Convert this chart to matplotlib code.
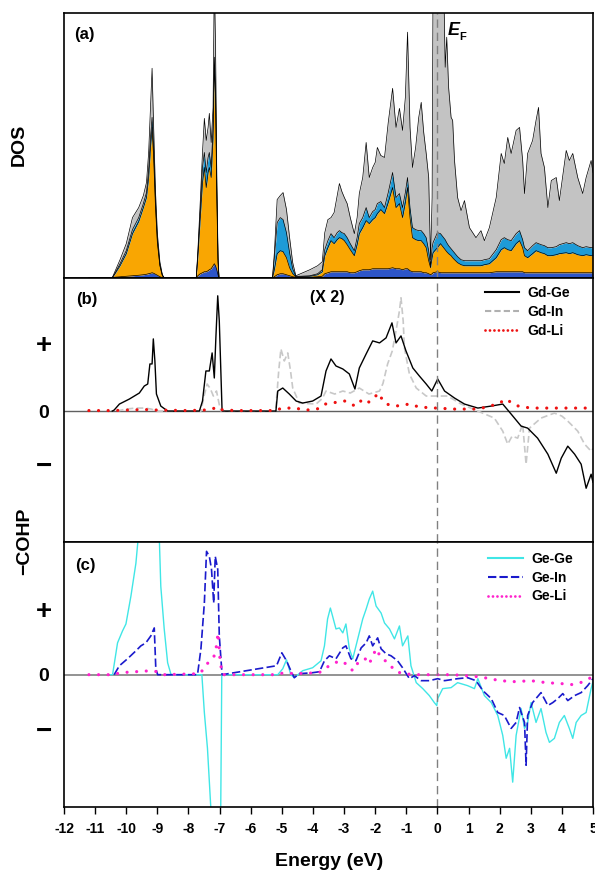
import matplotlib
matplotlib.use('Agg')
import matplotlib.pyplot as plt
from matplotlib.lines import Line2D

# ---------- (a) DOS, cumulative tops of each coloured band ----------
dos_energy = [-11.2, -10.45, -10.38, -10.2, -10.0, -9.8, -9.6, -9.45, -9.35, -9.28, -9.22, -9.17,
              -9.12, -9.06, -9.0, -8.92, -8.84, -8.78,
              -7.75, -7.70, -7.62, -7.55, -7.49, -7.43, -7.37, -7.33, -7.27, -7.21, -7.17, -7.13,
              -7.09, -7.05, -7.02,
              -5.30, -5.24, -5.15, -5.05, -4.96, -4.85, -4.75, -4.65, -4.55, -4.40, -4.10, -3.85,
              -3.70, -3.62, -3.52, -3.42, -3.32, -3.22, -3.15, -3.07, -2.99, -2.90, -2.80, -2.67,
              -2.58, -2.51, -2.40, -2.29, -2.19, -2.08, -2.00, -1.93, -1.82, -1.70, -1.58, -1.44,
              -1.33, -1.22, -1.12, -1.03, -0.96, -0.88, -0.80, -0.70, -0.60, -0.52, -0.44, -0.36,
              -0.28, -0.22, -0.17, -0.14, 0.00, 0.10, 0.20, 0.25, 0.30, 0.36, 0.44, 0.49, 0.55,
              0.65, 0.76, 0.87, 1.03, 1.24, 1.40, 1.51, 1.67, 1.89, 2.05, 2.15, 2.26, 2.37, 2.53,
              2.64, 2.74, 2.80, 2.90, 3.06, 3.17, 3.25, 3.33, 3.44, 3.55, 3.66, 3.82, 3.92, 4.14,
              4.24, 4.35, 4.51, 4.67, 4.78, 4.94, 5.00]
dos_blue = [0, 0, 0.05, 0.1, 0.15, 0.2, 0.25, 0.3, 0.35, 0.4, 0.45, 0.5,
            0.45, 0.35, 0.25, 0.1, 0.02, 0,
            0, 0.2, 0.4, 0.5, 0.6, 0.6, 0.7, 0.8, 0.9, 1.2, 1.4, 1.2,
            0.8, 0.3, 0,
            0, 0.1, 0.3, 0.4, 0.4, 0.3, 0.2, 0.1, 0.05, 0.05, 0.05, 0.1,
            0.15, 0.4, 0.5, 0.6, 0.6, 0.6, 0.6, 0.6, 0.6, 0.6, 0.5, 0.5,
            0.6, 0.7, 0.8, 0.8, 0.8, 0.9, 0.9, 0.9, 0.9, 0.9, 0.9, 1.0,
            0.9, 0.9, 0.8, 0.9, 0.9, 0.7, 0.6, 0.6, 0.6, 0.6, 0.5, 0.5,
            0.4, 0.3, 0.4, 0.5, 0.6, 0.5, 0.5, 0.5, 0.5, 0.5, 0.5, 0.5, 0.5,
            0.5, 0.5, 0.5, 0.5, 0.5, 0.5, 0.5, 0.5, 0.6, 0.6, 0.6, 0.6, 0.6, 0.6,
            0.6, 0.6, 0.5, 0.5, 0.5, 0.5, 0.5, 0.5, 0.5, 0.5, 0.5, 0.5, 0.5, 0.5,
            0.5, 0.5, 0.5, 0.5, 0.5, 0.5, 0.5]
dos_orange = [0, 0, 0.3, 1.2, 2.4, 4.4, 5.6, 7.0, 8.0, 10.0, 13.0, 15.0,
              12.0, 7.0, 3.5, 1.2, 0.2, 0,
              0, 2.0, 6.0, 9.5, 11.0, 9.0, 10.5, 11.0, 10.0, 14.0, 21.0, 18.0,
              8.0, 1.5, 0,
              0, 0.8, 2.4, 2.7, 2.6, 2.0, 1.0, 0.4, 0.1, 0.1, 0.15, 0.3,
              0.6, 2.2, 3.0, 3.7, 3.4, 3.8, 4.0, 3.9, 3.7, 3.3, 2.8, 2.2,
              3.3, 4.4, 5.0, 5.7, 5.4, 5.8, 6.0, 6.4, 6.8, 6.4, 7.5, 9.0,
              7.0, 7.4, 6.0, 7.5, 9.0, 6.0, 4.0, 3.8, 3.7, 3.7, 3.4, 3.0,
              1.7, 1.0, 2.0, 2.5, 3.0, 3.4, 3.0, 2.8, 2.6, 2.4, 2.2, 2.0, 1.8,
              1.5, 1.3, 1.2, 1.2, 1.2, 1.2, 1.3, 1.4, 2.0, 2.8, 3.0, 2.8, 2.7, 3.4,
              3.7, 3.0, 2.2, 2.0, 2.4, 2.7, 2.6, 2.5, 2.4, 2.2, 2.2, 2.3, 2.4, 2.5,
              2.4, 2.5, 2.3, 2.2, 2.3, 2.2, 2.2]
dos_cyan = [0, 0, 0.35, 1.4, 2.7, 4.8, 6.0, 7.4, 8.5, 10.8, 14.0, 16.0,
            13.0, 7.6, 3.8, 1.3, 0.25, 0,
            0, 2.3, 6.8, 11.0, 12.5, 10.5, 12.0, 12.5, 11.0, 15.0, 22.0, 19.0,
            9.0, 1.8, 0,
            0, 2.0, 5.5, 6.0, 5.8, 4.5, 2.5, 0.9, 0.15, 0.15, 0.2, 0.4,
            0.8, 2.8, 3.7, 4.4, 4.0, 4.5, 4.7, 4.5, 4.4, 4.0, 3.4, 2.7,
            4.0, 5.4, 6.0, 7.0, 6.0, 6.6, 6.8, 7.4, 7.6, 7.0, 8.5, 10.5,
            8.0, 8.4, 7.0, 8.5, 10.0, 7.0, 5.0, 4.8, 4.7, 4.7, 4.4, 4.0,
            2.7, 1.2, 3.0, 3.5, 4.5, 4.4, 4.0, 3.8, 3.5, 3.2, 2.9, 2.7, 2.5,
            2.1, 1.8, 1.7, 1.7, 1.7, 1.7, 1.8, 1.9, 2.8, 3.8, 4.0, 3.8, 3.7, 4.4,
            4.7, 3.8, 3.0, 2.7, 3.2, 3.5, 3.4, 3.3, 3.2, 3.0, 3.0, 3.1, 3.3, 3.5,
            3.4, 3.5, 3.2, 3.0, 3.1, 3.0, 3.0]
dos_total = [0, 0, 0.5, 1.8, 3.4, 6.0, 7.0, 8.2, 9.5, 12.5, 17.0, 20.9,
             15.0, 8.6, 4.4, 1.6, 0.3, 0,
             0, 2.6, 7.7, 12.5, 15.9, 13.7, 15.0, 16.4, 13.5, 17.0, 30.0, 23.0,
             10.0, 2.0, 0,
             0, 2.5, 7.8, 8.2, 8.5, 6.8, 4.0, 1.5, 0.2, 0.4, 0.8, 1.2,
             1.6, 4.5, 5.8, 6.0, 6.5, 8.2, 9.4, 8.6, 8.0, 7.4, 6.0, 4.4,
             6.0, 8.4, 10.0, 13.5, 10.0, 11.0, 11.5, 13.0, 12.2, 12.0, 15.5, 18.9,
             15.0, 16.9, 14.7, 18.0, 24.5, 15.0, 11.0, 13.0, 16.0, 17.5, 14.5, 12.4,
             10.0, 1.8, 8.0, 30.0, 30.0, 30.0, 30.0, 21.0, 24.0, 19.0, 16.0, 15.7, 11.7,
             8.0, 6.7, 7.7, 5.0, 4.0, 4.7, 3.7, 5.0, 8.0, 12.4, 11.4, 14.0, 12.4, 14.7,
             15.0, 11.7, 8.4, 12.4, 13.7, 15.7, 17.0, 12.4, 11.0, 7.0, 9.7, 10.0, 7.7, 12.7,
             11.7, 12.4, 10.0, 8.4, 10.0, 11.7, 10.5]

# ---------- (b) -COHP of Gd bonds ----------
gdge_e = [-10.45, -10.39, -10.22, -9.9, -9.58, -9.42, -9.31, -9.24, -9.17, -9.13, -9.08, -9.03,
          -8.89, -8.67, -7.65, -7.55, -7.44, -7.33, -7.24, -7.17, -7.12, -7.06, -7.01, -6.92,
          -5.19, -5.13, -4.97, -4.76, -4.54, -4.33, -4.01, -3.74, -3.58, -3.42, -3.26, -3.04,
          -2.83, -2.65, -2.51, -2.29, -2.08, -1.86, -1.65, -1.46, -1.33, -1.17, -1.01, -0.79,
          -0.58, -0.36, -0.18, 0.01, 0.23, 0.55, 0.87, 1.30, 1.73, 2.10, 2.37, 2.69, 2.90,
          3.22, 3.55, 3.82, 3.98, 4.19, 4.41, 4.62, 4.78, 4.94, 5.0]
gdge_v = [0, 0.02, 0.14, 0.24, 0.36, 0.5, 0.54, 0.94, 0.94, 1.44, 1.0, 0.34,
          0.1, 0, 0, 0.2, 0.8, 0.8, 1.16, 0.66, 1.46, 2.3, 1.8, 0,
          0, 0.4, 0.46, 0.34, 0.2, 0.16, 0.2, 0.3, 0.8, 1.04, 0.9, 0.84,
          0.74, 0.44, 0.86, 1.14, 1.4, 1.36, 1.46, 1.76, 1.36, 1.5, 1.2, 0.86,
          0.7, 0.54, 0.4, 0.64, 0.4, 0.26, 0.14, 0.06, 0.1, 0.14, -0.06, -0.3, -0.34,
          -0.54, -0.86, -1.24, -0.94, -0.7, -0.86, -1.06, -1.54, -1.26, -1.42]

gdin_e = [-10.3, -10.0, -9.7, -9.4, -9.2, -9.0, -7.6, -7.5, -7.4, -7.3, -7.2, -7.1, -7.0, -6.95,
          -5.2, -5.1, -5.03, -4.92, -4.81, -4.72, -4.65, -4.44, -3.9, -3.7, -3.58, -3.3, -3.04,
          -2.8, -2.51, -2.2, -1.86, -1.75, -1.6, -1.45, -1.33, -1.22, -1.17, -1.1, -1.06, -0.9,
          -0.68, -0.36, 0.01, 0.33, 0.76, 1.30, 1.83, 2.1, 2.26, 2.4, 2.58, 2.74, 2.8, 2.85,
          2.92, 2.96, 3.33, 3.76, 4.0, 4.19, 4.51, 4.73, 4.94, 5.0]
gdin_v = [0, 0.04, 0.06, 0.06, 0.04, 0, 0, 0.3, 0.54, 0.45, 0.3, 0.4, 0.1, 0,
          0, 0.8, 1.24, 1.0, 1.16, 0.8, 0.46, 0.16, 0.14, 0.25, 0.4, 0.34, 0.4,
          0.36, 0.46, 0.34, 0.4, 0.55, 0.94, 1.2, 1.6, 2.0, 2.26, 1.8, 1.26, 0.74,
          0.46, 0.3, 0.3, 0.3, 0.14, 0.0, -0.14, -0.4, -0.66, -0.5, -0.54, -0.26, -0.7, -1.06,
          -0.6, -0.34, -0.14, -0.04, -0.1, -0.2, -0.4, -0.66, -0.8, -0.75]

gdli_e = [-11.2, -10.4, -10.0, -9.4, -9.0, -8.0, -7.5, -7.2, -7.1, -7.0, -6.5, -5.2, -5.0, -4.6,
          -4.2, -3.8, -3.6, -3.2, -2.98, -2.8, -2.62, -2.4, -2.2, -2.0, -1.92, -1.8, -1.65,
          -1.33, -0.9, -0.58, -0.05, 0.55, 1.3, 1.7, 2.0, 2.2, 2.4, 2.6, 3.0, 4.0, 5.0]
gdli_v = [0.01, 0.01, 0.02, 0.03, 0.02, 0.01, 0.02, 0.05, 0.08, 0.03, 0.01, 0.01, 0.06, 0.06,
          0.02, 0.05, 0.14, 0.18, 0.2, 0.14, 0.1, 0.24, 0.18, 0.28, 0.36, 0.26, 0.14,
          0.1, 0.14, 0.08, 0.06, 0.04, 0.04, 0.1, 0.16, 0.24, 0.16, 0.1, 0.06, 0.06, 0.06]

# ---------- (c) -COHP of Ge bonds ----------
gege_e = [-10.5, -10.44, -10.28, -10.12, -10.01, -9.85, -9.69, -9.55, -9.2, -8.96, -8.89, -8.78,
          -8.67, -8.56, -7.57, -7.49, -7.39, -7.28, -7.1, -6.97, -6.93, -5.13, -4.97, -4.85,
          -4.71, -4.6, -4.33, -4.01, -3.74, -3.63, -3.53, -3.44, -3.37, -3.26, -3.15, -3.04,
          -2.94, -2.83, -2.72, -2.56, -2.40, -2.29, -2.19, -2.08, -1.97, -1.81, -1.70, -1.54,
          -1.38, -1.22, -1.12, -0.95, -0.85, -0.68, -0.47, -0.26, -0.10, -0.02, 0.01, 0.17,
          0.44, 0.65, 0.97, 1.19, 1.30, 1.51, 1.73, 1.94, 2.10, 2.21, 2.32, 2.42, 2.53, 2.69,
          2.80, 2.90, 3.01, 3.17, 3.33, 3.49, 3.60, 3.76, 3.92, 4.08, 4.24, 4.35, 4.46, 4.62,
          4.78, 4.94, 5.0]
gege_v = [0, 0, 0.64, 0.88, 1.02, 1.58, 2.24, 3.2, 3.6, 3.2, 1.78, 0.92,
          0.24, 0, 0, -0.76, -1.48, -2.7, -3.5, -3.2, 0, 0, 0.12, 0.3,
          0.0, -0.06, 0.08, 0.14, 0.28, 0.58, 1.12, 1.34, 1.18, 0.92, 0.94, 0.84,
          1.02, 0.52, 0.32, 0.72, 1.12, 1.32, 1.52, 1.68, 1.38, 1.24, 1.04, 0.92,
          0.72, 0.98, 0.58, 0.78, 0.18, -0.16, -0.28, -0.42, -0.56, -0.62, -0.48, -0.28,
          -0.26, -0.16, -0.22, -0.28, -0.08, -0.42, -0.56, -0.82, -1.22, -1.68, -1.48, -2.16, -1.22, -0.68,
          -1.08, -0.96, -0.56, -0.96, -0.68, -1.16, -1.36, -1.28, -0.96, -0.82, -1.08, -1.28, -0.96, -0.82,
          -0.76, -0.28, -0.14]

gein_e = [-10.39, -10.22, -9.96, -9.69, -9.53, -9.37, -9.21, -9.10, -9.05, -8.99,
          -7.71, -7.60, -7.49, -7.42, -7.33, -7.26, -7.19, -7.14, -7.06, -7.01, -6.92,
          -5.17, -5.0, -4.85, -4.71, -4.6, -4.44, -4.01, -3.79, -3.63, -3.47, -3.26, -3.04,
          -2.94, -2.78, -2.62, -2.45, -2.29, -2.19, -2.08, -1.92, -1.81, -1.65, -1.49, -1.28,
          -1.12, -0.9, -0.74, -0.52, -0.26, 0.01, 0.23, 0.65, 0.97, 1.24, 1.46, 1.73, 1.94,
          2.15, 2.37, 2.53, 2.64, 2.80, 2.85, 2.90, 3.06, 3.33, 3.55, 3.71, 3.87, 4.03, 4.19,
          4.41, 4.62, 4.83, 5.0]
gein_v = [0, 0.18, 0.32, 0.48, 0.58, 0.64, 0.78, 0.94, 0.12, 0,
          0, 0.52, 1.44, 2.48, 2.38, 2.12, 1.44, 2.38, 2.12, 0.78, 0,
          0.18, 0.44, 0.28, 0.08, -0.06, 0.02, 0.04, 0.06, 0.28, 0.38, 0.32, 0.54,
          0.58, 0.32, 0.28, 0.54, 0.64, 0.78, 0.58, 0.74, 0.52, 0.42, 0.38, 0.28,
          0.14, -0.08, -0.02, -0.12, -0.12, -0.08, -0.12, -0.08, -0.06, -0.12, -0.32, -0.48, -0.76,
          -0.82, -1.08, -0.96, -0.66, -0.96, -1.82, -0.82, -0.56, -0.36, -0.62, -0.56, -0.48, -0.38, -0.52,
          -0.42, -0.36, -0.22, -0.08]

geli_e = [-11.2, -10.4, -10.2, -9.7, -9.2, -9.0, -8.8, -7.65, -7.5, -7.33, -7.17, -7.1, -7.05,
          -6.98, -6.9, -5.2, -4.92, -4.6, -3.8, -3.63, -3.47, -3.15, -2.94, -2.72, -2.51, -2.29,
          -2.19, -1.97, -1.81, -1.54, -1.38, -1.12, -0.68, 0.5, 1.3, 1.7, 2.0, 2.5, 3.0, 3.5,
          4.0, 4.3, 4.6, 5.0]
geli_v = [0, 0, 0.04, 0.06, 0.08, 0.06, 0, 0.02, 0.12, 0.28, 0.38, 0.58, 0.84,
          0.24, 0, 0, 0.04, 0.02, 0.04, 0.12, 0.18, 0.28, 0.22, 0.08, 0.28, 0.32,
          0.22, 0.52, 0.34, 0.22, 0.08, 0.02, 0, 0, -0.04, -0.08, -0.12, -0.14, -0.12, -0.16,
          -0.18, -0.2, -0.16, -0.04]

x_ticks = list(range(-12, 6))
x_tick_labels = [str(t) for t in x_ticks]
b_ticks = [1.36, 0, -1.06]
c_ticks = [1.32, 0, -1.1]
sign_labels = ['+', '0', '\u2212']


if __name__ == "__main__":
    plt.rcParams['font.family'] = ['Liberation Sans', 'DejaVu Sans']
    plt.rcParams['font.weight'] = 'bold'

    fig = plt.figure(figsize=(5.95, 8.75), dpi=100)
    ax_a, ax_b, ax_c = fig.subplots(3, 1, sharex=True)
    fig.subplots_adjust(left=0.1076, right=0.9966, top=0.985, bottom=0.0777, hspace=0)

    # DOS bands
    bands = [([0] * len(dos_energy), dos_blue, '#2d55c8'),
             (dos_blue, dos_orange, '#f9a602'),
             (dos_orange, dos_cyan, '#1e9bd7'),
             (dos_cyan, dos_total, '#c3c3c3')]
    for lower, upper, col in bands:
        ax_a.fill_between(dos_energy, lower, upper, color=col, lw=0)
    for upper in [dos_blue, dos_orange, dos_cyan, dos_total]:
        ax_a.plot(dos_energy, upper, color='black', lw=0.5)
    ax_a.set_ylim(0, 26.4)
    ax_a.set_yticks([])

    # Gd bonds
    ax_b.axhline(0, color='#606060', lw=1.0)
    ax_b.plot(gdin_e, gdin_v, color='#c8c8c8', lw=1.2, dashes=(4, 2))
    ax_b.plot(gdge_e, gdge_v, color='black', lw=1.0)
    ax_b.plot(gdli_e, gdli_v, color='#ee1111', lw=2.3, linestyle=(0, (0.01, 3.0)),
              dash_capstyle='round')
    ax_b.set_ylim(-2.62, 2.66)

    # Ge bonds
    ax_c.axhline(0, color='#808080', lw=1.2)
    ax_c.plot(gege_e, gege_v, color='#40e6e6', lw=1.0)
    ax_c.plot(gein_e, gein_v, color='#1a1acc', lw=1.2, dashes=(5, 2))
    ax_c.plot(geli_e, geli_v, color='#ff22cc', lw=2.3, linestyle=(0, (0.01, 3.0)),
              dash_capstyle='round')
    ax_c.set_ylim(-2.66, 2.66)

    for ax, ticks in [(ax_b, b_ticks), (ax_c, c_ticks)]:
        ax.set_yticks(ticks)
        ax.set_yticklabels(sign_labels, fontweight='bold')
        for lab in ax.get_yticklabels():
            lab.set_fontsize(14 if lab.get_text() == '0' else 20)
            lab.set_horizontalalignment('center')
        ax.tick_params(axis='y', length=0, pad=14.5)

    for ax in [ax_a, ax_b, ax_c]:
        ax.axvline(0, color='#808080', lw=1.0, dashes=(6, 3.5))
        for sp in ax.spines.values():
            sp.set_linewidth(1.2)
        ax.tick_params(axis='x', bottom=False)

    ax_c.set_xlim(-12, 5)
    ax_c.set_xticks(x_ticks)
    ax_c.set_xticklabels(x_tick_labels, fontsize=10, fontweight='bold')
    ax_c.tick_params(axis='x', bottom=True, direction='out', length=5, width=1.0, pad=6)

    fig.text(19 / 595, 1 - 145 / 875, 'DOS', rotation=90, ha='center', va='center',
             fontsize=14, fontweight='bold')
    fig.text(25 / 595, 1 - 541 / 875, '\u2212COHP', rotation=90, ha='center', va='center',
             fontsize=14, fontweight='bold')
    fig.text(329 / 595, 1 - 862 / 875, 'Energy (eV)', ha='center', va='center',
             fontsize=14, fontweight='bold')

    # panel texts
    ax_a.text(0.019, 0.92, '(a)', transform=ax_a.transAxes, fontsize=12, fontweight='bold',
              va='center')
    ax_b.text(0.023, 0.917, '(b)', transform=ax_b.transAxes, fontsize=12, fontweight='bold',
              va='center')
    ax_c.text(0.021, 0.914, '(c)', transform=ax_c.transAxes, fontsize=12, fontweight='bold',
              va='center')
    ax_b.text(0.497, 0.924, '(X 2)', transform=ax_b.transAxes, fontsize=11.5, fontweight='bold',
              ha='center', va='center')
    ax_a.text(0.32, 24.7, 'E', fontsize=13, fontweight='bold', fontstyle='italic', va='center')
    ax_a.text(0.71, 24.0, 'F', fontsize=8, fontweight='bold', va='center')

    # legends
    b_handles = [Line2D([], [], color='black', lw=1.5),
                 Line2D([], [], color='#b0b0b0', lw=1.5, dashes=(3, 1.5)),
                 Line2D([], [], color='#ee1111', lw=2.0, linestyle=(0, (0.01, 1.6)),
                        dash_capstyle='round')]
    ax_b.legend(b_handles, ['Gd-Ge', 'Gd-In', 'Gd-Li'], loc='upper right',
                bbox_to_anchor=(0.957, 0.968), frameon=False, borderpad=0, borderaxespad=0,
                handlelength=2.5, handletextpad=0.6, labelspacing=0.35,
                prop={'size': 10, 'weight': 'bold'})
    c_handles = [Line2D([], [], color='#40e6e6', lw=1.5),
                 Line2D([], [], color='#1a1acc', lw=1.5, dashes=(4, 1.5)),
                 Line2D([], [], color='#ff22cc', lw=2.0, linestyle=(0, (0.01, 1.6)),
                        dash_capstyle='round')]
    ax_c.legend(c_handles, ['Ge-Ge', 'Ge-In', 'Ge-Li'], loc='upper right',
                bbox_to_anchor=(0.962, 0.965), frameon=False, borderpad=0, borderaxespad=0,
                handlelength=2.5, handletextpad=0.6, labelspacing=0.35,
                prop={'size': 10, 'weight': 'bold'})

    fig.savefig('out.png', dpi=100)
